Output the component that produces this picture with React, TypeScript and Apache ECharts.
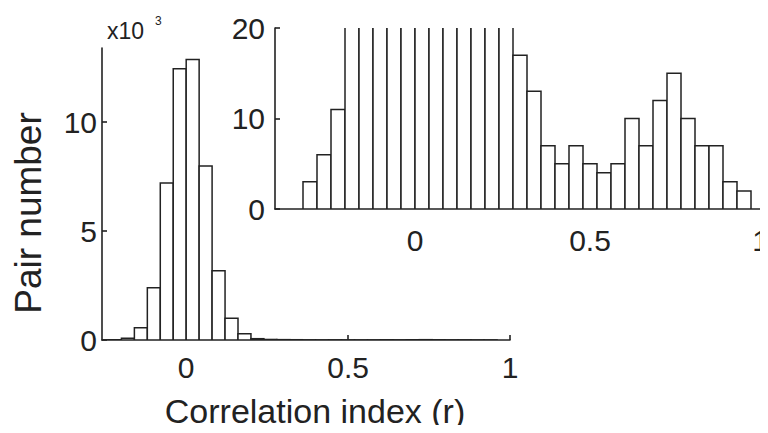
import React, { useEffect, useRef } from "react";
import * as echarts from "echarts";

// Histogram bins of the correlation index (left edge of each 0.04-wide bin)
const binLeft = [
  -0.32, -0.28, -0.24, -0.2, -0.16, -0.12, -0.08, -0.04, 0.0, 0.04, 0.08,
  0.12, 0.16, 0.2, 0.24, 0.28, 0.32, 0.36, 0.4, 0.44, 0.48, 0.52, 0.56, 0.6,
  0.64, 0.68, 0.72, 0.76, 0.8, 0.84, 0.88, 0.92,
];
const binWidth = 0.04;

// Pair counts in each bin
const pairCounts = [
  3, 6, 11, 80, 560, 2400, 7200, 12450, 12870, 7980, 3180, 1000, 290, 60, 25,
  17, 13, 7, 5, 7, 5, 4, 5, 10, 7, 12, 15, 10, 7, 7, 3, 2,
];

// Tick values
const mainXTicks = [0, 0.5, 1];
const mainYTicks = [0, 5, 10];
const insetXTicks = [0, 0.5, 1];
const insetYTicks = [0, 10, 20];

const FONT = "'Liberation Sans', Arial, Helvetica, sans-serif";
const INK = "#222";

export default function App() {
  const ref = useRef<HTMLDivElement>(null);

  useEffect(() => {
    if (!ref.current) return;
    const chart = echarts.init(ref.current, undefined, { renderer: "svg" });

    const mainData = binLeft.map((x, i) => [x, x + binWidth, pairCounts[i] / 1000]);
    const insetData = binLeft.map((x, i) => [x, x + binWidth, pairCounts[i]]);

    const renderBar = (_params: any, api: any) => {
      const x0 = api.value(0);
      const x1 = api.value(1);
      const v = api.value(2);
      const p0 = api.coord([x0, 0]);
      const p1 = api.coord([x1, v]);
      return {
        type: "rect",
        shape: {
          x: p0[0],
          y: p1[1],
          width: p1[0] - p0[0],
          height: p0[1] - p1[1],
        },
        style: { fill: "#fff", stroke: INK, lineWidth: 1.5 },
      };
    };

    const axisCommon = {
      axisLine: { show: true, onZero: false, lineStyle: { color: INK, width: 1.6 } },
      splitLine: { show: false },
      axisLabel: { color: INK, fontSize: 30, fontFamily: FONT },
    };
    const tickStyle = { color: INK, width: 1.6 };

    chart.setOption({
      animation: false,
      backgroundColor: "#fff",
      grid: [
        { left: 102, top: 48, width: 408, height: 292, outerBoundsMode: "none", containLabel: false },
        { left: 275, top: 28, width: 490, height: 181, outerBoundsMode: "none", containLabel: false },
      ],
      xAxis: [
        {
          gridIndex: 0,
          type: "value",
          min: -0.26,
          max: 1,
          ...axisCommon,
          axisTick: { show: true, inside: true, length: 5, customValues: mainXTicks, lineStyle: tickStyle },
          axisLabel: { ...axisCommon.axisLabel, margin: 12, customValues: mainXTicks },
        },
        {
          gridIndex: 1,
          type: "value",
          min: -0.4,
          max: 1,
          ...axisCommon,
          axisTick: { show: true, inside: true, length: 5, customValues: insetXTicks, lineStyle: tickStyle },
          axisLabel: {
            ...axisCommon.axisLabel,
            margin: 16,
            customValues: insetXTicks,
            // the last label sits at the page edge: nudge it inwards a little
            formatter: (v: number) => (v === 1 ? "{edge|1}" : String(v)),
            rich: {
              edge: { fontSize: 30, fontFamily: FONT, color: INK, padding: [0, 9, 0, 0] },
            },
          },
        },
      ],
      yAxis: [
        {
          gridIndex: 0,
          type: "value",
          min: 0,
          max: 13.4,
          ...axisCommon,
          axisTick: { show: true, inside: true, length: 5, customValues: mainYTicks, lineStyle: tickStyle },
          axisLabel: { ...axisCommon.axisLabel, margin: 5, customValues: mainYTicks },
        },
        {
          gridIndex: 1,
          type: "value",
          min: 0,
          max: 20,
          ...axisCommon,
          axisTick: { show: true, inside: true, length: 5, customValues: insetYTicks, lineStyle: tickStyle },
          axisLabel: { ...axisCommon.axisLabel, margin: 10, customValues: insetYTicks },
        },
      ],
      series: [
        {
          type: "custom",
          xAxisIndex: 0,
          yAxisIndex: 0,
          clip: true,
          renderItem: renderBar,
          encode: { x: [0, 1], y: 2 },
          data: mainData,
          z: 2,
        },
        {
          type: "custom",
          xAxisIndex: 1,
          yAxisIndex: 1,
          clip: true,
          renderItem: renderBar,
          encode: { x: [0, 1], y: 2 },
          data: insetData,
          z: 2,
        },
      ],
      graphic: [
        {
          type: "text",
          x: 28,
          y: 213,
          rotation: Math.PI / 2,
          style: {
            text: "Pair number",
            font: `37px ${FONT}`,
            fill: INK,
            align: "center",
            verticalAlign: "middle",
          },
        },
        {
          type: "text",
          x: 315,
          y: 411,
          style: {
            text: "Correlation index (r)",
            font: `34px ${FONT}`,
            fill: INK,
            align: "center",
            verticalAlign: "middle",
          },
        },
        {
          type: "text",
          x: 107,
          y: 31,
          style: {
            text: "x10",
            font: `23px ${FONT}`,
            fill: INK,
            align: "left",
            verticalAlign: "middle",
          },
        },
        {
          type: "text",
          x: 155,
          y: 21,
          style: {
            text: "3",
            font: `12px ${FONT}`,
            fill: INK,
            align: "left",
            verticalAlign: "middle",
          },
        },
      ],
    });

    return () => chart.dispose();
  }, []);

  return <div ref={ref} style={{ width: 768, height: 433, margin: -8 }} />;
}
